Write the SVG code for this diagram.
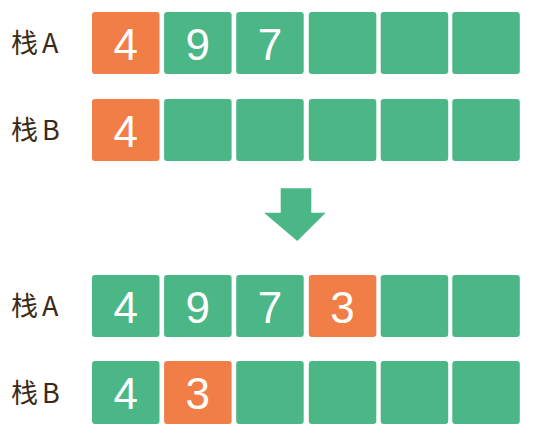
<svg xmlns="http://www.w3.org/2000/svg" width="544" height="436" viewBox="0 0 544 436">
<style>
.g{fill:#4bb787}
.o{fill:#f07e46}
.lbl{font-family:"Noto Sans CJK SC","Noto Sans",sans-serif;font-size:27px;fill:#3a2a18;letter-spacing:4px}
.num{font-family:"Liberation Sans",sans-serif;font-size:44px;fill:#ffffff;text-anchor:middle}
</style>
<rect width="544" height="436" fill="#ffffff"/>
<g id="rowA1">
<text class="lbl" x="11" y="53">栈A</text>
<rect class="o" x="92" y="12" width="67.5" height="62" rx="3"/>
<rect class="g" x="164.1" y="12" width="67.5" height="62" rx="3"/>
<rect class="g" x="236.2" y="12" width="67.5" height="62" rx="3"/>
<rect class="g" x="308.8" y="12" width="67.5" height="62" rx="3"/>
<rect class="g" x="380.7" y="12" width="67.5" height="62" rx="3"/>
<rect class="g" x="452.3" y="12" width="67.5" height="62" rx="3"/>
<text class="num" x="125.7" y="60">4</text>
<text class="num" x="197.8" y="60">9</text>
<text class="num" x="270" y="60">7</text>
</g>
<g id="rowB1">
<text class="lbl" x="11" y="140">栈B</text>
<rect class="o" x="92" y="99" width="67.5" height="62" rx="3"/>
<rect class="g" x="164.1" y="99" width="67.5" height="62" rx="3"/>
<rect class="g" x="236.2" y="99" width="67.5" height="62" rx="3"/>
<rect class="g" x="308.8" y="99" width="67.5" height="62" rx="3"/>
<rect class="g" x="380.7" y="99" width="67.5" height="62" rx="3"/>
<rect class="g" x="452.3" y="99" width="67.5" height="62" rx="3"/>
<text class="num" x="125.7" y="147">4</text>
</g>
<g id="connectors">
<polygon class="g" points="280.7,188.3 311.3,188.3 311.3,212.7 325.7,212.7 297.3,241 264,212.7 280.7,212.7"/>
</g>
<g id="rowA2">
<text class="lbl" x="11" y="316">栈A</text>
<rect class="g" x="92" y="275" width="67.5" height="62" rx="3"/>
<rect class="g" x="164.1" y="275" width="67.5" height="62" rx="3"/>
<rect class="g" x="236.2" y="275" width="67.5" height="62" rx="3"/>
<rect class="o" x="308.8" y="275" width="67.5" height="62" rx="3"/>
<rect class="g" x="380.7" y="275" width="67.5" height="62" rx="3"/>
<rect class="g" x="452.3" y="275" width="67.5" height="62" rx="3"/>
<text class="num" x="125.7" y="323">4</text>
<text class="num" x="197.8" y="323">9</text>
<text class="num" x="270" y="323">7</text>
<text class="num" x="342.5" y="323">3</text>
</g>
<g id="rowB2">
<text class="lbl" x="11" y="403">栈B</text>
<rect class="g" x="92" y="361" width="67.5" height="63" rx="3"/>
<rect class="o" x="164.1" y="361" width="67.5" height="63" rx="3"/>
<rect class="g" x="236.2" y="361" width="67.5" height="63" rx="3"/>
<rect class="g" x="308.8" y="361" width="67.5" height="63" rx="3"/>
<rect class="g" x="380.7" y="361" width="67.5" height="63" rx="3"/>
<rect class="g" x="452.3" y="361" width="67.5" height="63" rx="3"/>
<text class="num" x="125.7" y="409">4</text>
<text class="num" x="197.8" y="409">3</text>
</g>
</svg>
